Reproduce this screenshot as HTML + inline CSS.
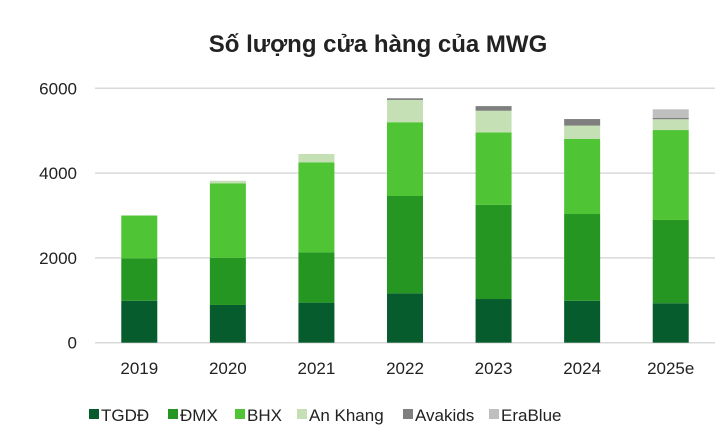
<!DOCTYPE html>
<html><head><meta charset="utf-8"><style>
body{margin:0;background:#fff;font-family:"Liberation Sans",sans-serif}
svg text{font-family:"Liberation Sans",sans-serif;fill:#222}
</style></head><body>
<svg id="c" width="720" height="433">
<text x="378" y="52" text-anchor="middle" font-size="24" font-weight="bold">Số lượng cửa hàng của MWG</text>
<g id="grid"></g><g id="bars"></g><g id="xl"></g><g id="legend"></g>
</svg>
<script>
const categories=["2019","2020","2021","2022","2023","2024","2025e"];
const seriesNames=["TGDĐ","ĐMX","BHX","An Khang","Avakids","EraBlue"];
const tgdd=[990,890,945,1165,1030,990,930];
const dmx=[1000,1110,1185,2295,2220,2045,1965];
const bhx=[1010,1760,2125,1740,1710,1770,2120];
const ankhang=[0,60,195,525,510,315,255];
const avakids=[0,0,0,40,110,155,30];
const erablue=[0,0,0,0,0,0,205];
const yTicks=[0,2000,4000,6000];
const colors=["#065c2c","#259622","#4fc435","#c4e0b4","#7f7f7f","#bfbfbf"];
const series=[tgdd,dmx,bhx,ankhang,avakids,erablue];
const NS="http://www.w3.org/2000/svg";
const x0=95,x1=715,y0=342.7,y1=88.3,ymax=6000;
const band=(x1-x0)/categories.length,bw=36;
const y=v=>y0-(v/ymax)*(y0-y1);
const xc=i=>x0+band*(i+0.5);
function mk(t,a,p){const e=document.createElementNS(NS,t);for(const k in a)e.setAttribute(k,a[k]);p.appendChild(e);return e;}
const G=document.getElementById('grid');
yTicks.forEach(t=>{
 const l=mk('line',{x1:x0,x2:x1,y1:y(t),y2:y(t),stroke:'#d9d9d9','stroke-width':1.5},G);
 
 
 const tx=mk('text',{x:77,y:y(t)+6,'text-anchor':'end','font-size':17},G);tx.textContent=t;
 
 
});
const B=document.getElementById('bars');
categories.forEach((c,i)=>{
 let cum=0;
 series.forEach((s,j)=>{
  const v=s[i];if(!v)return;
  const r=mk('rect',{x:xc(i)-bw/2,y:y(cum+v),width:bw,height:y(cum)-y(cum+v),fill:colors[j]},B);
  
  
  cum+=v;
 });
 const t=mk('text',{x:xc(i),y:374,'text-anchor':'middle','font-size':17},document.getElementById('xl'));t.textContent=c;
 
 
});
const L=document.getElementById('legend');
const lx=[89,168,235,297,403,489];
seriesNames.forEach((n,j)=>{
 const g=mk('g',{},L);
 
 
 mk('rect',{x:lx[j],y:409,width:10,height:10,fill:colors[j]},g);
 const t=mk('text',{x:lx[j]+12,y:421,'font-size':17},g);t.textContent=n;
});
</script>
</body></html>
